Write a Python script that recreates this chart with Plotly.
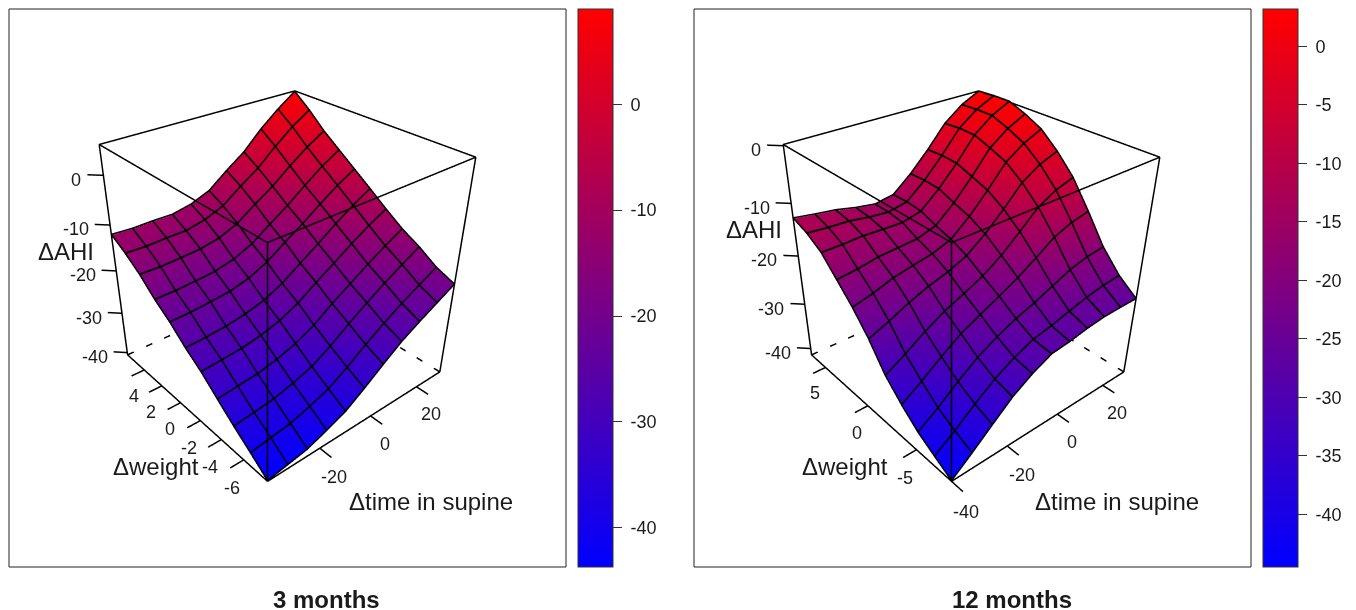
import math
import plotly.graph_objects as go

time_3m = [-38.6, -31.64, -24.68, -17.72, -10.76, -3.8, 3.16, 10.12, 17.08, 24.04, 31.0]
time_12m = [-40, -33, -26, -19, -12, -5, 2, 9, 16, 23, 30]
weight_3m = [-8.0, -6.6, -5.2, -3.8, -2.4, -1.0, 0.4, 1.8, 3.2, 4.6, 6.0]
weight_12m = [-8.2, -6.7, -5.2, -3.7, -2.2, -0.7, 0.8, 2.3, 3.8, 5.3, 6.8]

ahi_3m = [
    [-43.7, -42.8, -41.9, -40.0, -37.9, -34.6, -31.0, -27.6, -24.9, -22.4, -19.9],
    [-40.2, -39.4, -38.7, -37.1, -35.3, -32.3, -28.9, -25.8, -23.0, -20.5, -18.1],
    [-36.9, -36.3, -35.6, -34.3, -32.6, -29.8, -26.4, -23.3, -20.4, -17.8, -15.3],
    [-33.3, -32.8, -32.3, -31.2, -29.6, -27.2, -23.9, -21.0, -18.1, -15.4, -13.0],
    [-29.6, -29.2, -28.8, -27.9, -26.5, -24.2, -21.1, -18.2, -15.2, -12.5, -10.1],
    [-26.6, -26.4, -26.0, -25.2, -23.9, -21.7, -18.6, -15.6, -12.4, -9.5, -7.0],
    [-23.0, -22.9, -22.5, -22.0, -20.8, -18.7, -15.6, -12.7, -9.5, -6.5, -4.0],
    [-20.1, -20.1, -19.8, -19.4, -18.3, -16.3, -13.2, -10.2, -6.8, -3.6, -1.0],
    [-16.5, -16.6, -16.4, -16.1, -15.2, -13.3, -10.2, -7.3, -3.8, -0.6, 2.0],
    [-13.7, -13.9, -13.7, -13.7, -12.7, -10.9, -7.6, -4.6, -0.7, 2.8, 5.6],
    [-11.4, -11.7, -11.6, -11.7, -10.8, -9.0, -5.5, -2.3, 2.0, 5.6, 8.7],
]
ahi_12m = [
    [-44.5, -40.8, -36.9, -33.1, -30.3, -28.2, -27.7, -26.9, -26.4, -26.3, -26.3],
    [-42.2, -38.9, -35.3, -32.0, -29.5, -27.6, -26.7, -25.5, -24.4, -23.6, -23.2],
    [-39.8, -36.7, -33.1, -29.9, -27.5, -25.5, -24.0, -22.2, -20.4, -19.3, -18.8],
    [-36.5, -33.5, -30.2, -27.2, -25.0, -22.9, -20.7, -18.1, -15.3, -13.7, -12.8],
    [-32.6, -30.0, -27.1, -24.6, -22.7, -20.7, -17.9, -14.4, -10.7, -8.5, -7.2],
    [-27.0, -25.2, -23.1, -21.4, -20.1, -18.3, -15.2, -11.4, -7.2, -4.7, -3.2],
    [-22.5, -21.4, -19.9, -19.0, -18.2, -16.7, -13.3, -9.1, -4.5, -1.8, 0.0],
    [-18.8, -18.3, -17.5, -17.2, -16.9, -15.6, -12.1, -7.8, -3.0, -0.1, 1.8],
    [-15.1, -15.1, -14.9, -15.1, -15.2, -14.2, -10.7, -6.5, -1.7, 1.3, 3.2],
    [-13.0, -13.4, -13.6, -14.3, -14.7, -13.9, -10.5, -6.3, -1.6, 1.3, 3.2],
    [-11.7, -12.4, -13.0, -14.0, -14.7, -14.0, -10.6, -6.5, -1.9, 1.1, 3.0],
]

time_ticks_3m = [-20, 0, 20]
time_ticks_12m = [-40, -20, 0, 20]
weight_ticks_3m = [-6, -4, -2, 0, 2, 4]
weight_ticks_12m = [-5, 0, 5]
ahi_ticks = [-40, -30, -20, -10, 0]
bar_ticks_3m = [-40, -30, -20, -10, 0]
bar_ticks_12m = [-40, -35, -30, -25, -20, -15, -10, -5, 0]

W, H = 1356, 610
FONT = "Liberation Sans, Arial, sans-serif"
INK = "#1a1a1a"
PAD = 0.12
Z_STRETCH = 1.015
AZ, EL, DIST = 40.0, 34.0, 3.15
SHIFT_SIDE, SHIFT_UP = -0.06, -0.19


def camera():
    a, e = math.radians(AZ), math.radians(EL)
    cx = SHIFT_SIDE * math.cos(a)
    cy = -SHIFT_SIDE * math.sin(a)
    cz = SHIFT_UP
    return dict(
        up=dict(x=0, y=0, z=1),
        center=dict(x=cx, y=cy, z=cz),
        eye=dict(
            x=cx - DIST * math.cos(e) * math.sin(a),
            y=cy - DIST * math.cos(e) * math.cos(a),
            z=cz + DIST * math.sin(e),
        ),
        projection=dict(type="perspective"),
    )


def add_panel(fig, scene, domain, xs, ys, zz, zlo, zhi, tick_lo, tick_hi,
              xticks, yticks, bar_ticks, bar_x):
    x0, x1, y0, y1 = xs[0], xs[-1], ys[0], ys[-1]
    dx, dy, dz = x1 - x0, y1 - y0, zhi - zlo
    fig.add_trace(go.Surface(
        x=xs, y=ys, z=zz, scene=scene, cmin=zlo, cmax=zhi,
        colorscale=[[0, "#0000ff"], [1, "#ff0000"]],
        lighting=dict(ambient=1, diffuse=0, specular=0, roughness=1, fresnel=0),
        hoverinfo="skip",
        contours=dict(
            x=dict(show=True, start=x0, end=x1, size=dx / 10, color="#000000", width=2, highlight=False),
            y=dict(show=True, start=y0, end=y1, size=dy / 10, color="#000000", width=2, highlight=False),
            z=dict(highlight=False),
        ),
        colorbar=dict(
            x=bar_x / W, xanchor="left", xpad=0, thickness=35,
            y=1 - 288 / H, yanchor="middle", ypad=0, lenmode="pixels", len=558,
            outlinecolor="#333333", outlinewidth=1,
            tickmode="array", tickvals=bar_ticks, ticktext=["\u00a0" + str(t) for t in bar_ticks],
            ticks="outside", ticklen=9, tickcolor="#333333",
            tickfont=dict(family=FONT, size=18, color=INK),
        ),
    ))

    # Mesh lines follow the surface nodes, lifted a hair so they stay on top of it.
    lift = 0.004 * dz
    mx, my, mz = [], [], []
    for j, row in enumerate(zz):
        mx += list(xs) + [None]
        my += [ys[j]] * len(xs) + [None]
        mz += [v + lift for v in row] + [None]
    for i in range(len(xs)):
        mx += [xs[i]] * len(ys) + [None]
        my += list(ys) + [None]
        mz += [row[i] + lift for row in zz] + [None]
    fig.add_trace(go.Scatter3d(
        x=mx, y=my, z=mz, mode="lines", scene=scene, showlegend=False, hoverinfo="skip",
        connectgaps=False, line=dict(color="#000000", width=3),
    ))

    def seg(px, py, pz, dash="solid"):
        fig.add_trace(go.Scatter3d(
            x=px, y=py, z=pz, mode="lines", scene=scene, showlegend=False,
            hoverinfo="skip", line=dict(color="#000000", width=3, dash=dash),
        ))

    # Box edges
    seg([x0, x1, x1, x0, x0], [y0, y0, y1, y1, y0], [zhi] * 5)
    seg([x0, x0], [y0, y0], [zlo, zhi])
    seg([x1, x1], [y0, y0], [zlo, zhi])
    seg([x0, x0], [y1, y1], [zlo, zhi])
    seg([x0, x1], [y0, y0], [zlo, zlo])
    seg([x0, x0], [y0, y1], [zlo, zlo])
    seg([x1, x1], [y0, y1], [zlo, zlo], "longdash")
    seg([x0, x1], [y1, y1], [zlo, zlo], "longdash")

    notes = []

    def note(x, y, z, text, xa, sx, sy):
        notes.append(dict(
            x=x, y=y, z=z, text=text, showarrow=False, xanchor=xa, yanchor="middle",
            xshift=sx, yshift=sy, font=dict(family=FONT, size=18, color=INK),
        ))

    for t in xticks:
        seg([t, t], [y0, y0 - 0.065 * dy], [zlo, zlo])
        note(t, y0 - 0.065 * dy, zlo, str(t), "center", 3, -20)
    for t in yticks:
        seg([x0, x0 - 0.065 * dx], [t, t], [zlo, zlo])
        note(x0 - 0.065 * dx, t, zlo, str(t), "center", 2, -20)
    for t in ahi_ticks:
        z = zlo + (t - tick_lo) / (tick_hi - tick_lo) * dz
        seg([x0, x0 - 0.045 * dx], [y1, y1 + 0.045 * dy], [z, z])
        note(x0 - 0.045 * dx, y1 + 0.045 * dy, z, str(t), "right", -4, -5)

    fig.update_layout({scene: dict(
        domain=dict(x=[domain[0] / W, domain[1] / W], y=[0, 1]),
        bgcolor="rgba(0,0,0,0)",
        xaxis=dict(visible=False, range=[x0 - PAD * dx, x1 + PAD * dx]),
        yaxis=dict(visible=False, range=[y0 - PAD * dy, y1 + PAD * dy]),
        zaxis=dict(visible=False, range=[zlo - PAD * dz, zhi + PAD * dz]),
        aspectmode="manual",
        aspectratio=dict(x=1 + 2 * PAD, y=1 + 2 * PAD, z=(1 + 2 * PAD) * Z_STRETCH),
        camera=camera(),
        annotations=notes,
    )})


fig = go.Figure()
add_panel(fig, "scene", (0, 536), time_3m, weight_3m, ahi_3m, -43.7, 9.0, -40.6, 5.8,
          time_ticks_3m, weight_ticks_3m, bar_ticks_3m, 578)
add_panel(fig, "scene2", (684, 1220), time_12m, weight_12m, ahi_12m, -44.5, 3.2, -41.5, 0.2,
          time_ticks_12m, weight_ticks_12m, bar_ticks_12m, 1263)

shapes = [
    dict(type="rect", xref="paper", yref="paper", x0=x0 / W, x1=x1 / W, y0=1 - 567 / H, y1=1 - 9 / H,
         line=dict(color="#222222", width=1))
    for x0, x1 in [(9, 566), (694, 1251)]
]

labels = [
    ("\u0394AHI", 36, 252, 24, False), ("\u0394weight", 111, 466, 24, False), ("\u0394time in supine", 347, 501, 24, False),
    ("\u0394AHI", 724, 229, 24, False), ("\u0394weight", 800, 466, 24, False), ("\u0394time in supine", 1033, 501, 24, False),
]
annotations = [
    dict(text=t, x=px / W, y=1 - py / H, xref="paper", yref="paper", xanchor="left", yanchor="middle",
         showarrow=False, font=dict(family=FONT, size=s, color=INK))
    for t, px, py, s, b in labels
]
for title, px in [("3 months", 326), ("12 months", 1012)]:
    annotations.append(dict(
        text=f"<b>{title}</b>", x=px / W, y=1 - 599 / H, xref="paper", yref="paper",
        xanchor="center", yanchor="middle", showarrow=False,
        font=dict(family=FONT, size=24, color=INK),
    ))

fig.update_layout(
    width=W, height=H, autosize=False, margin=dict(l=0, r=0, t=0, b=0),
    paper_bgcolor="white", plot_bgcolor="white", showlegend=False,
    shapes=shapes, annotations=annotations,
)

fig.write_html("out.html", config=dict(displayModeBar=False),
               post_script="document.body.style.margin='0';")
